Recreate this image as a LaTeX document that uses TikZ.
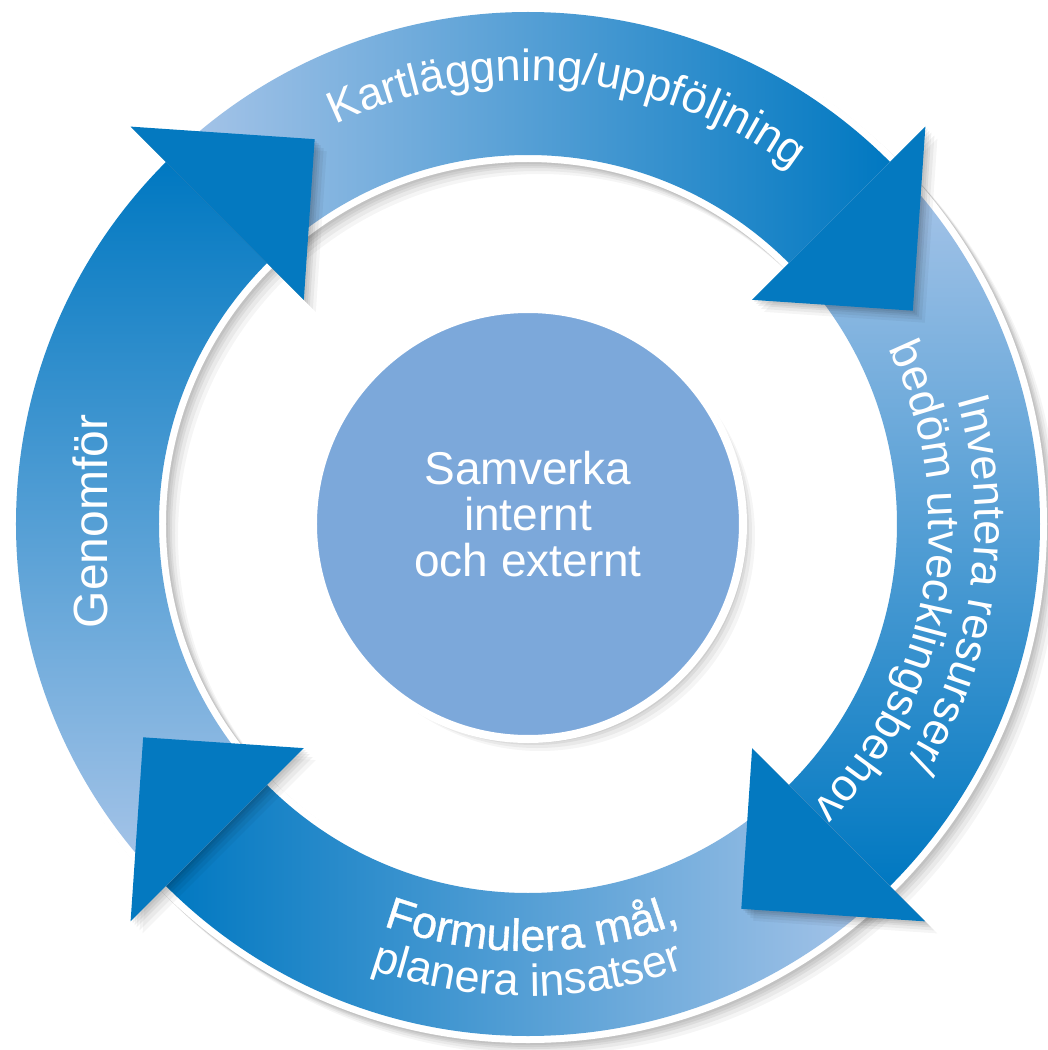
\documentclass[tikz,border=0pt]{standalone}
\usepackage{fontspec}
\setmainfont{Liberation Sans}
\newfontfamily\heavyfont[FakeBold=0.8]{Liberation Sans}
\usetikzlibrary{decorations.text}

\definecolor{bandlight}{HTML}{AAC6E9}
\definecolor{banddark}{HTML}{0078C1}
\definecolor{headblue}{HTML}{0479C0}
\definecolor{coreblue}{HTML}{7CA8DA}
\newcommand{\ringfont}{\fontsize{45}{45}\selectfont}
\newcommand{\corefont}{\fontsize{46}{46}\selectfont}

\tikzstyle{softshadow} = [preaction={fill=black, opacity=0.06, transform canvas={shift={(2pt,-2pt)}}}, preaction={fill=black, opacity=0.06, transform canvas={shift={(4pt,-4pt)}}}, preaction={fill=black, opacity=0.06, transform canvas={shift={(6pt,-6pt)}}}, preaction={fill=black, opacity=0.05, transform canvas={shift={(9pt,-9pt)}}}, preaction={fill=black, opacity=0.04, transform canvas={shift={(12pt,-12pt)}}}]
\tikzstyle{ringborder} = [fill=white, even odd rule, preaction={fill=black, even odd rule, opacity=0.06, transform canvas={shift={(2pt,-2pt)}}}, preaction={fill=black, even odd rule, opacity=0.06, transform canvas={shift={(4pt,-4pt)}}}, preaction={fill=black, even odd rule, opacity=0.06, transform canvas={shift={(6pt,-6pt)}}}, preaction={fill=black, even odd rule, opacity=0.05, transform canvas={shift={(9pt,-9pt)}}}, preaction={fill=black, even odd rule, opacity=0.04, transform canvas={shift={(12pt,-12pt)}}}]
\tikzstyle{head} = [fill=headblue, softshadow]
\tikzstyle{core} = [circle, minimum size=430pt, inner sep=0pt, fill=coreblue, draw=white, line width=8pt, softshadow]
\tikzstyle{coretext} = [text=white, align=center, font=\corefont]
\tikzstyle{ringtext} = [decorate, decoration={text along path, text align=center, text color=white}]

\begin{document}
\begin{tikzpicture}[x=1pt, y=1pt]
\useasboundingbox (-528,-526) rectangle (520,524);

%ring
\fill [ringborder] (0,0) circle[radius=519] (0,0) circle[radius=362];

%bands, light at the tail and dark at the head
\shade [left color=bandlight, right color=banddark] (135:512) arc[start angle=135, end angle=45, radius=512] -- (45:369) arc[start angle=45, end angle=135, radius=369] -- cycle;
\shade [top color=bandlight, bottom color=banddark] (45:512) arc[start angle=45, end angle=-45, radius=512] -- (-45:369) arc[start angle=-45, end angle=45, radius=369] -- cycle;
\shade [right color=bandlight, left color=banddark] (-45:512) arc[start angle=-45, end angle=-135, radius=512] -- (-135:369) arc[start angle=-135, end angle=-45, radius=369] -- cycle;
\shade [bottom color=bandlight, top color=banddark] (-135:512) arc[start angle=-135, end angle=-225, radius=512] -- (-225:369) arc[start angle=-225, end angle=-135, radius=369] -- cycle;

%heads
\fill [head] (45:562) -- (29:440) -- (45:317) -- cycle;
\fill [head] (-45:562) -- (-61:440) -- (-45:317) -- cycle;
\fill [head] (-135:562) -- (-151:440) -- (-135:317) -- cycle;
\fill [head] (135:562) -- (119:440) -- (135:317) -- cycle;

%labels on the ring
\path [ringtext, decoration={text={|\ringfont|Kartläggning/uppföljning}}] (134.5:443) arc[start angle=134.5, end angle=34.5, radius=443];
\path [ringtext, decoration={text={|\ringfont|Inventera resurser/}}] (42:447) arc[start angle=42, end angle=-58, radius=447];
\path [ringtext, decoration={text={|\ringfont|bedöm utvecklingsbehov}}] (40.5:401) arc[start angle=40.5, end angle=-59.5, radius=401];
\path [ringtext, decoration={text={|\heavyfont\ringfont|Formulera mål,}}] (-139.5:427) arc[start angle=-139.5, end angle=-39.5, radius=427];
\path [ringtext, decoration={text={|\ringfont|planera insatser}}] (-140:472) arc[start angle=-140, end angle=-40, radius=472];
\node (genomfor) [rotate=90, anchor=base, text=white, font=\fontsize{48}{48}\selectfont] at (-420,2.5) {Genomför};

%centre
\node (samverka) [core] at (0,0) {};
\node (samverkatext) [coretext, yshift=9.5pt] at (samverka) {Samverka\\internt\\och externt};

\end{tikzpicture}
\end{document}
